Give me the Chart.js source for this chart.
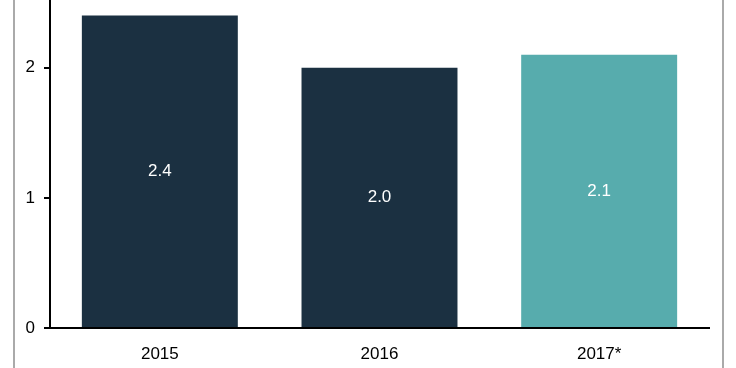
<!DOCTYPE html>
<html><head><meta charset="utf-8">
<script src="https://cdn.jsdelivr.net/npm/chart.js@4/dist/chart.umd.min.js"></script>
<style>html,body{margin:0;padding:0;background:#fff}#w{width:736px;height:368px;position:relative}</style>
</head><body><div id="w"><canvas id="c" width="736" height="368"></canvas></div>
<script>
const categories = ['2015', '2016', '2017*'];
const values = [2.4, 2.0, 2.1];
const barColors = ['#1b3041', '#1b3041', '#57acad'];
const yTicks = [0, 1, 2];

const frame = {
  id: 'frame',
  beforeDraw(chart) {
    const ctx = chart.ctx;
    ctx.save();
    ctx.fillStyle = '#aaaaaa';
    ctx.fillRect(13, 0, 2, chart.height);
    ctx.fillRect(722, 0, 2, chart.height);
    ctx.restore();
  }
};
const labels = {
  id: 'labels',
  afterDatasetsDraw(chart) {
    const ctx = chart.ctx;
    const meta = chart.getDatasetMeta(0);
    ctx.save();
    ctx.fillStyle = '#ffffff';
    ctx.font = '17px "Liberation Sans", Arial, sans-serif';
    ctx.textAlign = 'center';
    ctx.textBaseline = 'middle';
    meta.data.forEach((bar, i) => {
      const y = (bar.y + bar.base) / 2;
      ctx.fillText(values[i].toFixed(1), bar.x, y);
    });
    ctx.restore();
  }
};

new Chart(document.getElementById('c'), {
  type: 'bar',
  data: {
    labels: categories,
    datasets: [{ data: values, backgroundColor: barColors, borderWidth: 0, barPercentage: 0.71, categoryPercentage: 1 }]
  },
  options: {
    responsive: false,
    animation: false,
    layout: { padding: { left: 0, right: 27, top: 0, bottom: 0 } },
    plugins: { legend: { display: false }, tooltip: { enabled: false } },
    scales: {
      x: {
        grid: { display: false },
        border: { display: true, color: '#000', width: 2 },
        ticks: { color: '#000', font: { family: '"Liberation Sans", Arial, sans-serif', size: 17 }, padding: 8 },
        afterFit(s) { s.height = 40; s.paddingLeft = 0; s.paddingRight = 0; }
      },
      y: {
        min: 0, max: 2.52,
        grid: { display: true, drawOnChartArea: false, color: '#000', lineWidth: 2, tickLength: 6 },
        border: { display: true, color: '#000', width: 2 },
        ticks: { stepSize: 1, includeBounds: false, color: '#000', font: { family: '"Liberation Sans", Arial, sans-serif', size: 17 }, padding: 9,
          callback: v => yTicks.includes(v) ? String(v) : '' },
        afterFit(s) { s.width = 50; s.paddingTop = 0; s.paddingBottom = 0; }
      }
    }
  },
  plugins: [frame, labels]
});
</script></body></html>
